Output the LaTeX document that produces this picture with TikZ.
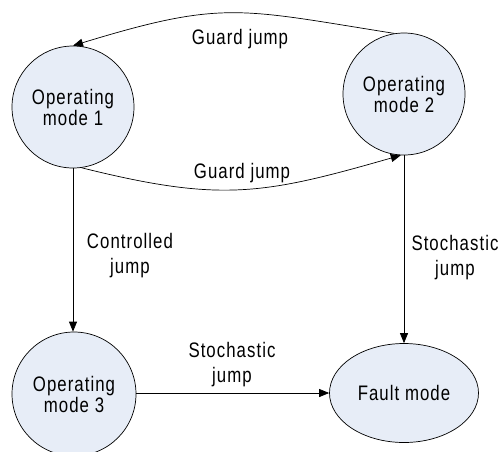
\documentclass[tikz,border=0pt]{standalone}
\usepackage{fontspec}
\setmainfont{Liberation Sans}[FakeStretch=0.8, LetterSpace=5]
\usetikzlibrary{arrows.meta,shapes.geometric}
\definecolor{modefill}{RGB}{231,237,247}
\tikzset{
  mode/.style={draw=black, line width=0.7pt, fill=modefill, circle,
    minimum size=122pt, inner sep=0pt, align=center,
    font=\fontsize{21}{21}\selectfont},
  faultmode/.style={draw=black, line width=0.7pt, fill=modefill, ellipse,
    minimum width=149pt, minimum height=99pt, inner sep=0pt,
    font=\fontsize{21}{21}\selectfont},
  lbl/.style={align=center, inner sep=0pt, font=\fontsize{21}{25}\selectfont},
  jump/.style={line width=0.7pt, -{Triangle[length=10pt,width=8pt]}},
}
\begin{document}
\begin{tikzpicture}[x=1pt, y=-1pt]
  \useasboundingbox (0,0) rectangle (502,451);
  \clip (0,0) rectangle (502,451);

  % operating and fault modes
  \node[mode] (m1) at (73,107) {Operating\\mode 1};
  \node[mode] (m2) at (404,94) {Operating\\mode 2};
  \node[mode, minimum size=124pt] (m3) at (74,394) {Operating\\mode 3};
  \node[faultmode] (f) at (404,393) {Fault mode};

  % transitions
  \draw[jump] (m2.99) to[out=171, in=17, looseness=1.25] (m1.90);
  \draw[jump] (m1.-82) to[out=-14, in=196, looseness=1.15] (m2.-93);
  \draw[jump] (m1.south) -- (m1.south |- m3.north);
  \draw[jump] (m2.south) -- (m2.south |- f.north);
  \draw[jump] (m3.east |- f.west) -- (f.west);

  % transition labels
  \node[lbl] (l1) at (240,39) {Guard jump};
  \node[lbl] (l2) at (242,173) {Guard jump};
  \node[lbl] (l3) at (130,256) {Controlled\\jump};
  \node[lbl] (l4) at (455,258) {Stochastic\\jump};
  \node[lbl] (l5) at (232,365) {Stochastic\\jump};
\end{tikzpicture}
\end{document}
